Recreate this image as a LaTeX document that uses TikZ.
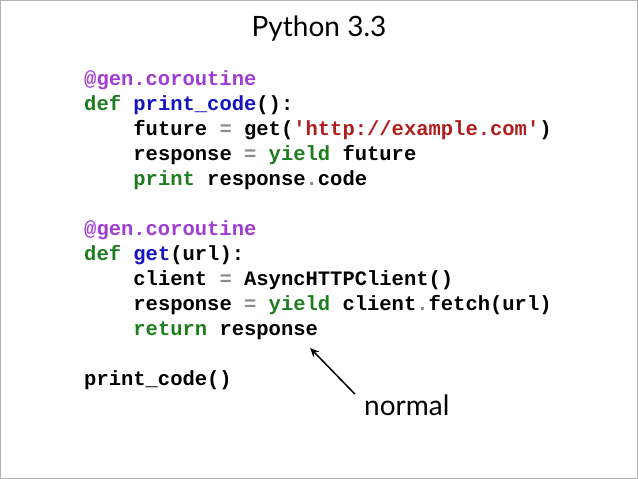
\documentclass[tikz,border=0pt]{standalone}
\usepackage{fontspec}
\setmainfont{Lato}
\setmonofont{Liberation Mono}
\usetikzlibrary{arrows.meta}
\definecolor{decor}{RGB}{160,60,210}
\definecolor{kwgreen}{RGB}{30,125,30}
\definecolor{fnblue}{RGB}{20,20,190}
\definecolor{strred}{RGB}{175,30,30}
\definecolor{opgray}{RGB}{140,140,140}
\def\codeline{\node[anchor=base west,inner sep=0pt,font=\ttfamily\bfseries\fontsize{20.5}{25}\selectfont]}
\def\dec#1{\textcolor{decor}{#1}}
\def\kw#1{\textcolor{kwgreen}{#1}}
\def\fn#1{\textcolor{fnblue}{#1}}
\def\str#1{\textcolor{strred}{#1}}
\def\op#1{\textcolor{opgray}{#1}}

\begin{document}
\begin{tikzpicture}[x=1pt,y=-1pt]
\useasboundingbox (0,0) rectangle (638,479);
\draw[gray!60,line width=1pt] (0.5,0.5) rectangle (637.5,478.5);
\node[font=\fontsize{28}{32}\selectfont] (title) at (319,29) {Python 3.3};
% first coroutine
\codeline (deca) at (84,85) {\dec{@gen.coroutine}};
\codeline (defa) at (84,110) {\kw{def} \fn{print\_code}():};
\codeline (fut) at (133.2,135) {future \op{=} get(\str{'http://example.com'})};
\codeline (resa) at (133.2,160) {response \op{=} \kw{yield} future};
\codeline (prt) at (133.2,185) {\kw{print} response\op{.}code};
% second coroutine
\codeline (decb) at (84,235) {\dec{@gen.coroutine}};
\codeline (defb) at (84,260) {\kw{def} \fn{get}(url):};
\codeline (cli) at (133.2,285) {client \op{=} AsyncHTTPClient()};
\codeline (resb) at (133.2,310) {response \op{=} \kw{yield} client\op{.}fetch(url)};
\codeline (ret) at (133.2,335) {\kw{return} response};
\codeline (call) at (84,385) {print\_code()};
% label
\node[anchor=base west,inner sep=0pt,font=\fontsize{28}{32}\selectfont] (normal) at (364,415) {normal};
\coordinate (tip) at ([shift={(-8,13)}]ret.base east);
\draw[line width=1.5pt,-{Stealth[length=9pt,width=8pt]}] ([shift={(-9,0)}]normal.north west) -- (tip);
\end{tikzpicture}
\end{document}
